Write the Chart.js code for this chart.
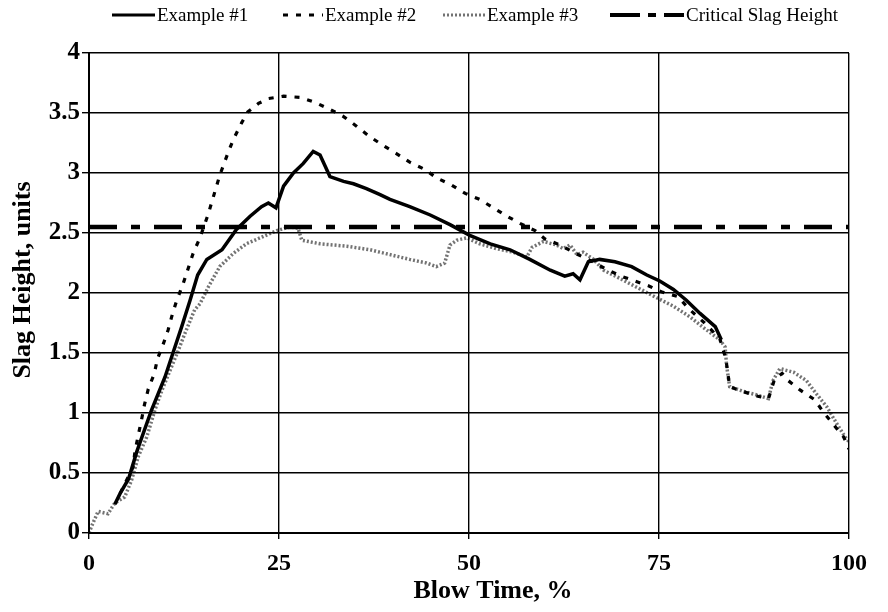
<!DOCTYPE html>
<html>
<head>
<meta charset="utf-8">
<script src="https://cdn.jsdelivr.net/npm/chart.js@4.4.1/dist/chart.umd.min.js"></script>
<style>
  html, body { margin: 0; padding: 0; background: #fff; }
  #wrap { width: 888px; height: 612px; position: relative; }
</style>
</head>
<body>
<div id="wrap"><canvas id="chart"></canvas></div>
<script>
/* ---------------- data ---------------- */
const ex1X = [3.4, 4.1, 5.2, 6.3, 8.2, 10, 11.1, 12.2, 13.3, 14.3, 15.5, 17.5, 19.4, 21.2, 22.7, 23.6, 24.6,
  25.6, 26.9, 28.2, 29.5, 30.4, 31.7, 33.5, 34.8, 36.5, 38.3, 39.6, 42.2, 44.9, 47.5, 50.1, 52.8, 55.4, 58, 60.7,
  62.6, 63.7, 64.6, 65.7, 67.2, 69.2, 71.4, 73.4, 75.1, 76.9, 78.6, 80.4, 82.4, 83.2];
const ex1Y = [0.24, 0.33, 0.45, 0.68, 1.02, 1.30, 1.51, 1.72, 1.94, 2.15, 2.28, 2.36, 2.53, 2.64, 2.72, 2.75, 2.71,
  2.89, 3.0, 3.08, 3.18, 3.15, 2.97, 2.93, 2.91, 2.87, 2.82, 2.78, 2.72, 2.65, 2.57, 2.48, 2.41, 2.36, 2.28, 2.19,
  2.14, 2.16, 2.11, 2.26, 2.28, 2.26, 2.22, 2.15, 2.10, 2.03, 1.94, 1.83, 1.72, 1.61];

const ex2X = [4.1, 5.8, 6.05, 6.5, 6.9, 7.3, 7.8, 8.6, 9, 9.8, 10.4, 11, 11.5, 12.4, 13.7, 14.6, 15.7,
  17.2, 18.3, 19, 20.1, 20.9, 22.3, 23.6, 25.6, 27.8, 29.7, 31.7, 33.5, 35.2, 37, 38.7, 40.5, 42.2, 44.2, 45.7, 47.7,
  49.5, 51.4, 53.2, 55, 56.7, 58.7, 60, 62, 64, 66, 68, 70, 71.4, 73.6, 75.3, 77.5, 78.9, 81, 83, 83.8, 84.3, 86, 88,
  89.4, 90.2, 91.2, 92, 93.6, 95.5, 96.6, 98, 99.3, 100];
const ex2Y = [0.33, 0.55, 0.68, 0.82, 0.94, 1.07, 1.2, 1.33, 1.45, 1.58, 1.69, 1.83, 1.93, 2.08, 2.33, 2.46, 2.66,
  2.98, 3.17, 3.28, 3.42, 3.51, 3.58, 3.62, 3.64, 3.63, 3.59, 3.53, 3.47, 3.39, 3.30, 3.23, 3.16, 3.09, 3.03, 2.96, 2.90,
  2.83, 2.78, 2.71, 2.64, 2.58, 2.52, 2.45, 2.40, 2.33, 2.27, 2.20, 2.14, 2.11, 2.06, 2.01, 1.97, 1.87, 1.75, 1.62, 1.45, 1.22, 1.18, 1.14,
  1.12, 1.28, 1.33, 1.27, 1.19, 1.11, 1.01, 0.90, 0.80, 0.70];

const ex3X = [0, 0.3, 1.2, 2.5, 3.4, 4.7, 5.6, 6.5, 7.6, 8.7, 9.6, 10.7, 11.8, 12.6, 13.9, 14.6, 15.7, 17.2, 19, 20.7, 22.9,
  24.7, 26.4, 27.5, 28, 30.4, 33.9, 37, 39.6, 42.2, 44.4, 45.7, 46.8, 47.5, 48.4, 49.7, 51.4, 53.6, 55.8, 57.6, 58.3,
  59.8, 61.5, 62.4, 63.3, 64.2, 65, 66.4, 67.7, 69.9, 72, 74.7, 76.9, 79.1, 81.3, 83, 83.7, 83.9, 84.3, 86.1, 87.9,
  89.4, 90, 90.9, 92.7, 94.4, 95.7, 97.1, 98.4, 99.5, 100];
const ex3Y = [0, 0.05, 0.18, 0.16, 0.25, 0.30, 0.44, 0.64, 0.80, 1.03, 1.19, 1.36, 1.53, 1.66, 1.86, 1.91, 2.05, 2.22, 2.33, 2.41, 2.47,
  2.52, 2.55, 2.54, 2.44, 2.41, 2.39, 2.36, 2.32, 2.28, 2.25, 2.22, 2.25, 2.40, 2.44, 2.46, 2.41, 2.37, 2.34, 2.30, 2.38,
  2.43, 2.40, 2.37, 2.40, 2.32, 2.34, 2.28, 2.19, 2.12, 2.05, 1.96, 1.89, 1.80, 1.69, 1.61, 1.55, 1.39, 1.22, 1.18, 1.15,
  1.12, 1.27, 1.37, 1.34, 1.27, 1.16, 1.05, 0.91, 0.80, 0.76];

const critX = [0, 100];
const critY = [2.55, 2.55];

const seriesNames = ['Example #1', 'Example #2', 'Example #3', 'Critical Slag Height'];
const xTicks = [0, 25, 50, 75, 100];
const yTicks = [0, 0.5, 1, 1.5, 2, 2.5, 3, 3.5, 4];
const xTitle = 'Blow Time, %';
const yTitle = 'Slag Height, units';

/* ---------------- helpers ---------------- */
const toPts = (xs, ys) => xs.map((x, i) => ({ x: x, y: ys[i] }));

const SERIF = "'Liberation Serif', 'Times New Roman', serif";

// line styles per series (also used by the hand-drawn legend)
const styles = [
  { color: '#000',               width: 3.5, dash: [] },
  { color: '#000',               width: 3.2, dash: [5, 8] },
  { color: 'rgba(0,0,0,0.55)',   width: 3.5, dash: [2, 2] },
  { color: '#000',               width: 4.5, dash: [28, 14, 9, 14] },
];

// legend sits above the plot, items at fixed spots like the original
const legendPos = [
  { x0: 112, x1: 155, tx: 157 },
  { x0: 283, x1: 323, tx: 325 },
  { x0: 443, x1: 485, tx: 487 },
  { x0: 610, x1: 684, tx: 686 },
];

// legend + axis titles (the x title sits right of centre in the original)
const annotations = {
  id: 'annotations',
  afterDraw(chart) {
    const ctx = chart.ctx;
    const y = 15;
    ctx.save();
    ctx.font = '19px ' + SERIF;
    ctx.textBaseline = 'middle';
    ctx.fillStyle = '#000';
    seriesNames.forEach((name, i) => {
      const s = styles[i], p = legendPos[i];
      ctx.beginPath();
      ctx.setLineDash(i === 3 ? [30, 8, 8, 8] : s.dash);
      ctx.lineWidth = i === 3 ? 4 : 3;
      ctx.strokeStyle = s.color;
      ctx.moveTo(p.x0, y);
      ctx.lineTo(p.x1, y);
      ctx.stroke();
      ctx.setLineDash([]);
      ctx.fillText(name, p.tx, y + 1);
    });

    ctx.font = 'bold 26px ' + SERIF;
    ctx.textAlign = 'center';
    ctx.fillText(xTitle, 493, 591);

    ctx.translate(23, 280);
    ctx.rotate(-Math.PI / 2);
    ctx.fillText(yTitle, 0, 0);
    ctx.restore();
  }
};

const datasets = [
  toPts(ex1X, ex1Y), toPts(ex2X, ex2Y), toPts(ex3X, ex3Y), toPts(critX, critY)
].map((data, i) => ({
  label: seriesNames[i],
  data: data,
  borderColor: styles[i].color,
  borderWidth: styles[i].width,
  borderDash: styles[i].dash,
  pointRadius: 0,
  tension: 0,
  fill: false,
  order: [0, 2, 3, 1][i],
}));

new Chart(document.getElementById('chart'), {
  type: 'line',
  data: { datasets },
  plugins: [annotations],
  options: {
    responsive: true,
    maintainAspectRatio: false,
    animation: false,
    events: [],
    layout: { padding: { top: 53, right: 39, left: 0, bottom: 0 } },
    plugins: { legend: { display: false }, tooltip: { enabled: false } },
    scales: {
      x: {
        type: 'linear',
        min: 0, max: 100,
        afterBuildTicks: (s) => { s.ticks = xTicks.map(v => ({ value: v })); },
        afterFit: (s) => { s.height = 79; },
        grid: { color: '#000', lineWidth: 1.4, tickLength: 6 },
        border: { color: '#000', width: 2 },
        ticks: {
          color: '#000',
          padding: 10,
          maxRotation: 0,
          font: { family: SERIF, size: 24, weight: 'bold' },
        },
      },
      y: {
        min: 0, max: 4,
        afterBuildTicks: (s) => { s.ticks = yTicks.map(v => ({ value: v })); },
        afterFit: (s) => { s.width = 89; },
        grid: { color: '#000', lineWidth: 1.4, tickLength: 7 },
        border: { color: '#000', width: 2 },
        ticks: {
          color: '#000',
          padding: 2,
          font: { family: SERIF, size: 25, weight: 'bold' },
          callback: (v) => String(v),
        },
      },
    },
  },
});
</script>
</body>
</html>
